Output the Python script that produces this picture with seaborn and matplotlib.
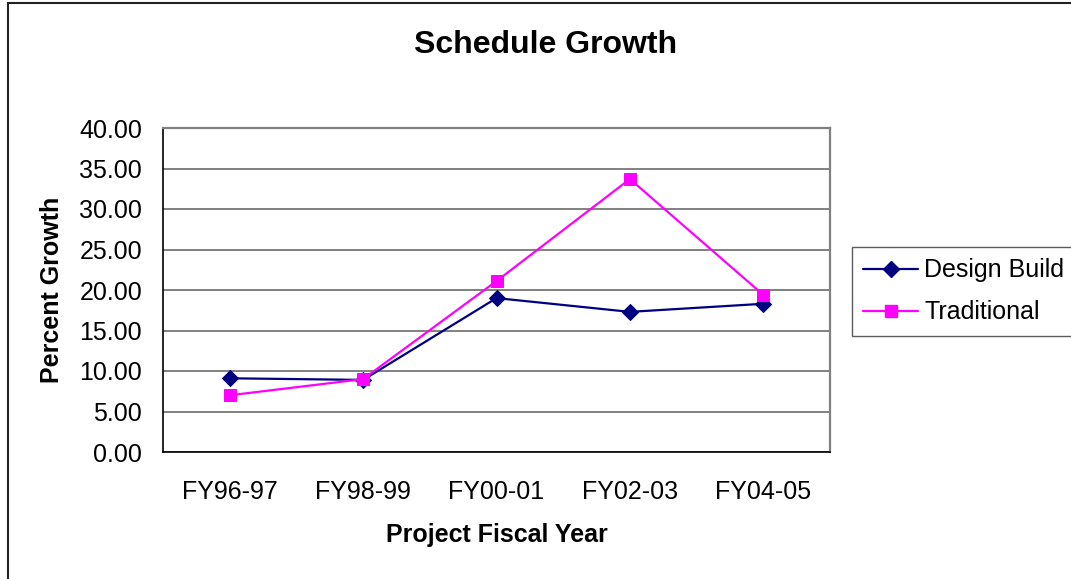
import matplotlib
matplotlib.use("Agg")
import matplotlib.pyplot as plt
import seaborn as sns
import pandas as pd
from matplotlib.lines import Line2D

categories = ["FY96-97", "FY98-99", "FY00-01", "FY02-03", "FY04-05"]
design_build = [9.1, 8.9, 19.0, 17.3, 18.3]
traditional = [7.0, 9.0, 21.1, 33.7, 19.4]
y_ticks = [0, 5, 10, 15, 20, 25, 30, 35, 40]

sns.set_theme(style="white")
plt.rcParams['font.family'] = ['Liberation Sans', 'DejaVu Sans']
plt.rcParams['text.color'] = 'black'
plt.rcParams['xtick.color'] = 'black'
plt.rcParams['ytick.color'] = 'black'
plt.rcParams['xtick.labelcolor'] = 'black'
plt.rcParams['ytick.labelcolor'] = 'black'

df = pd.DataFrame({
    "x": list(range(len(categories))) * 2,
    "value": design_build + traditional,
    "series": ["Design Build"] * len(categories) + ["Traditional"] * len(categories),
})

fig = plt.figure(figsize=(10.71, 5.79), dpi=100)
ax = fig.add_axes([163/1071, 1 - 452/579, 667/1071, 324/579])

palette = {"Design Build": "#000080", "Traditional": "#FF00FF"}
markers = {"Design Build": "D", "Traditional": "s"}
for name in ["Design Build", "Traditional"]:
    sub = df[df.series == name]
    sns.lineplot(data=sub, x="x", y="value", ax=ax, color=palette[name],
                 marker=markers[name], markersize=8.5 if name == "Design Build" else 9,
                 markeredgecolor=palette[name], linewidth=1.6, sort=False,
                 legend=False, zorder=3)

ax.set_xlim(-0.5, len(categories) - 0.5)
ax.set_ylim(0, 40)
ax.set_yticks(y_ticks)
ax.set_yticklabels([f"{v:.2f}" for v in y_ticks], fontsize=18, color="black")
ax.set_xticks([i - 0.5 for i in range(len(categories) + 1)])
ax.set_xticklabels([])
ax.set_xticks(list(range(len(categories))), minor=True)
ax.set_xticklabels(categories, minor=True, fontsize=18, color="black")
ax.tick_params(axis="x", which="minor", length=0, pad=20)
ax.tick_params(axis="x", which="major", length=6, width=1.2, color="black", direction="out")
ax.tick_params(axis="y", length=6, width=1.2, color="black", direction="out", pad=9)
ax.yaxis.grid(True, color="#808080", linewidth=1.4)
ax.set_axisbelow(True)
for s in ["top", "right"]:
    ax.spines[s].set_color("#808080")
    ax.spines[s].set_linewidth(1.6)
for s in ["left", "bottom"]:
    ax.spines[s].set_color("black")
    ax.spines[s].set_linewidth(1.2)
ax.set_xlabel("")
ax.set_ylabel("")

fig.text(546/1071, 1 - 45/579, "Schedule Growth", fontsize=23, fontweight="bold",
         ha="center", va="center", color="black")
fig.text(52/1071, 1 - 290/579, "Percent Growth", fontsize=18, fontweight="bold",
         ha="center", va="center", rotation=90, color="black")
fig.text(497/1071, 1 - 535/579, "Project Fiscal Year", fontsize=18, fontweight="bold",
         ha="center", va="center", color="black")

handles = [Line2D([0], [0], color="#000080", marker="D", markersize=8.5, linewidth=1.6),
           Line2D([0], [0], color="#FF00FF", marker="s", markersize=9, linewidth=1.6)]
leg = fig.legend(handles, ["Design Build", "Traditional"], loc="upper left",
                 bbox_to_anchor=(852/1071, 1 - 247/579), bbox_transform=fig.transFigure,
                 fontsize=18, frameon=True, fancybox=False, edgecolor="#333333",
                 handlelength=2.2, handletextpad=0.25, labelspacing=0.72,
                 borderpad=0.45, borderaxespad=0)
leg.get_frame().set_linewidth(1.0)
for t in leg.get_texts():
    t.set_color("black")

fig.add_artist(Line2D([8/1071, 8/1071], [0, 1 - 3/579], transform=fig.transFigure,
                      color="#222222", linewidth=1.5))
fig.add_artist(Line2D([8/1071, 1], [1 - 3/579, 1 - 3/579], transform=fig.transFigure,
                      color="#222222", linewidth=1.5))

fig.savefig("out.png", dpi=100)
